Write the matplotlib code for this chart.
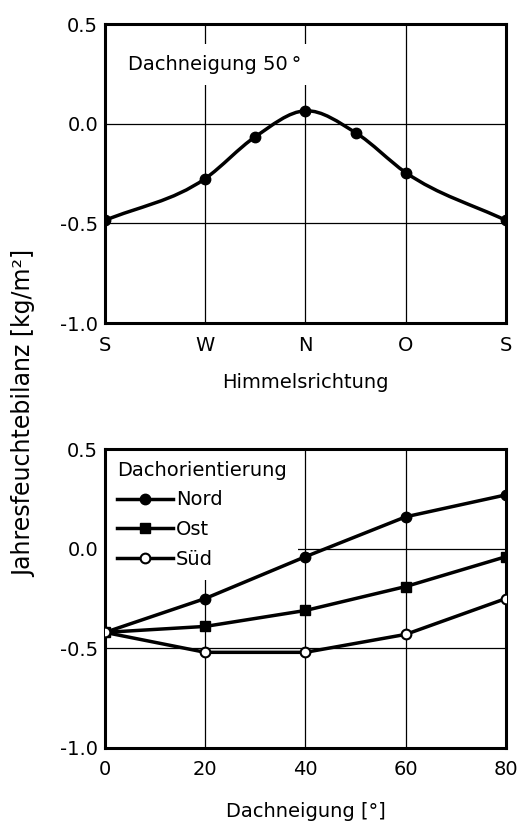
import matplotlib
matplotlib.use('Agg')
import matplotlib.pyplot as plt
from matplotlib.path import Path
from matplotlib.patches import PathPatch
import numpy as np

plt.rcParams['font.family'] = ['DejaVu Sans']

# oberes Diagramm: Dachneigung 50 Grad, ueber die Himmelsrichtung
richtung_pos = [0, 1, 1.5, 2, 2.5, 3, 4]
bilanz_50 = [-0.485, -0.275, -0.065, 0.065, -0.045, -0.245, -0.485]
richtung_ticks = [0, 1, 2, 3, 4]
richtung_labels = ['S', 'W', 'N', 'O', 'S']

# unteres Diagramm: ueber die Dachneigung
neigung = [0, 20, 40, 60, 80]
nord = [-0.42, -0.25, -0.04, 0.16, 0.27]
ost = [-0.42, -0.39, -0.31, -0.19, -0.04]
sued = [-0.42, -0.52, -0.52, -0.43, -0.25]

y_ticks = [-1.0, -0.5, 0.0, 0.5]


def smooth_path(x, y):
    # glatte Kurve durch die Messpunkte (kubische Bezier-Segmente)
    x = np.asarray(x, float)
    y = np.asarray(y, float)
    m = np.gradient(y, x)
    verts = [(x[0], y[0])]
    codes = [Path.MOVETO]
    for i in range(len(x) - 1):
        h = x[i + 1] - x[i]
        verts += [(x[i] + h / 3, y[i] + m[i] * h / 3),
                  (x[i + 1] - h / 3, y[i + 1] - m[i + 1] * h / 3),
                  (x[i + 1], y[i + 1])]
        codes += [Path.CURVE4] * 3
    return Path(verts, codes)


def style_axes(ax):
    ax.set_ylim(-1.0, 0.5)
    ax.set_yticks(y_ticks)
    ax.set_yticklabels(['%.1f' % v for v in y_ticks])
    ax.grid(True, color='black', linewidth=0.9, zorder=1)
    ax.tick_params(length=0, labelsize=14)
    ax.tick_params(axis='x', pad=9)
    ax.tick_params(axis='y', pad=5)
    for s in ax.spines.values():
        s.set_linewidth(2.2)


fig = plt.figure(figsize=(5.19, 8.30), dpi=100)
ax1 = fig.add_axes([0.2023, 0.6108, 0.7726, 0.3602])
ax2 = fig.add_axes([0.2023, 0.0988, 0.7726, 0.3602])

# --- oben
style_axes(ax1)
ax1.set_xlim(0, 4)
ax1.set_xticks(richtung_ticks)
ax1.set_xticklabels(richtung_labels)
ax1.add_patch(PathPatch(smooth_path(richtung_pos, bilanz_50), facecolor='none',
                        edgecolor='black', linewidth=2.5, zorder=3))
ax1.plot(richtung_pos, bilanz_50, linestyle='none', marker='o', markersize=7.5,
         color='black', zorder=4)
ax1.text(0.057, 0.866, 'Dachneigung 50\u2009°', transform=ax1.transAxes, fontsize=14,
         va='center', ha='left',
         bbox=dict(facecolor='white', edgecolor='none', pad=8))
ax1.set_xlabel('Himmelsrichtung', fontsize=14)
ax1.xaxis.set_label_coords(0.5, -0.2)
ax1.xaxis.label.set_verticalalignment('center')

# --- unten
style_axes(ax2)
ax2.set_xlim(0, 80)
ax2.set_xticks(neigung)
ax2.plot(neigung, nord, color='black', linewidth=2.5, marker='o', markersize=7.5,
         label='Nord', zorder=3)
ax2.plot(neigung, ost, color='black', linewidth=2.5, marker='s', markersize=7.5,
         label='Ost', zorder=3)
ax2.plot(neigung, sued, color='black', linewidth=2.5, marker='o', markersize=7,
         markerfacecolor='white', markeredgewidth=1.5, label='Süd', zorder=3)
leg = ax2.legend(loc='upper left', bbox_to_anchor=(0, 1), borderaxespad=0,
                 title='Dachorientierung', alignment='left', fontsize=14,
                 title_fontsize=14, frameon=True, fancybox=False,
                 edgecolor='none', facecolor='white', framealpha=1,
                 handlelength=2.9, handletextpad=0.15, labelspacing=0.55,
                 borderpad=0.6)
leg.set_zorder(2)
ax2.set_xlabel('Dachneigung [°]', fontsize=14)
ax2.xaxis.set_label_coords(0.5, -0.214)
ax2.xaxis.label.set_verticalalignment('center')

fig.text(0.046, 0.5024, 'Jahresfeuchtebilanz [kg/m²]', rotation=90,
         fontsize=17, ha='center', va='center')

fig.savefig('out.png', dpi=100)
